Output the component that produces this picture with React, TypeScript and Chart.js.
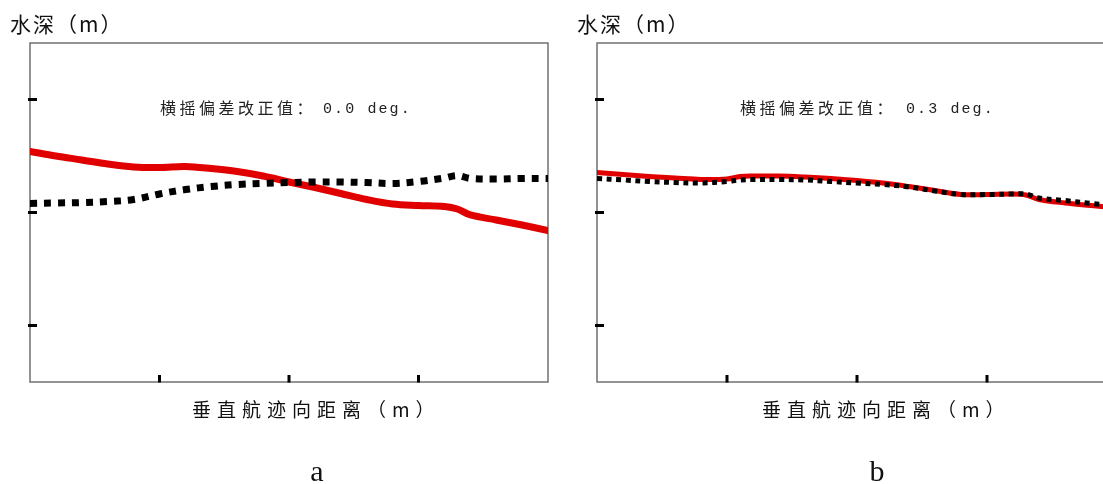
import React, { useEffect, useRef } from "react";
import { Chart, registerables } from "chart.js";

Chart.register(...registerables);

// ---- data (x: cross-track distance units, y: depth units) ----
const X_A = [0, 2, 4, 6, 8, 10, 12, 14, 16, 18, 20, 22, 24, 26, 28, 30, 32, 33, 34, 36, 38, 40];
const RED_A = [9.6, 10.0, 10.35, 10.71, 10.97, 11.02, 10.93, 11.11, 11.37, 11.77, 12.3, 12.79, 13.32, 13.85, 14.25, 14.38, 14.47, 14.69, 15.22, 15.66, 16.11, 16.59];
const BLACK_A = [14.2, 14.16, 14.12, 14.03, 13.85, 13.36, 12.97, 12.7, 12.52, 12.43, 12.35, 12.3, 12.3, 12.35, 12.43, 12.26, 11.95, 11.73, 11.99, 12.04, 11.99, 11.99];

const X_B = [0, 2, 4, 6, 8, 10, 11, 12, 14, 16, 18, 20, 22, 24, 26, 28, 30, 32, 33, 34, 36, 38, 40];
const RED_B = [11.46, 11.64, 11.81, 11.95, 12.08, 12.04, 11.81, 11.77, 11.77, 11.86, 11.99, 12.17, 12.39, 12.7, 13.05, 13.41, 13.41, 13.36, 13.45, 13.85, 14.16, 14.38, 14.6];
const BLACK_B = [11.99, 12.12, 12.26, 12.35, 12.39, 12.26, 12.12, 12.08, 12.08, 12.12, 12.26, 12.39, 12.52, 12.74, 13.1, 13.41, 13.41, 13.36, 13.36, 13.72, 13.94, 14.2, 14.43];

const X_TICKS = [10, 20, 30];
const Y_TICKS = [5, 15, 25];
const X_MIN = 0, X_MAX = 40, Y_MIN = 0, Y_MAX = 30;

const Y_TITLE = "水深（m）";
const X_TITLE = "垂直航迹向距离（m）";
const NOTE_LABEL = "横摇偏差改正值：";
const NOTE_VALUE_A = "0.0 deg.";
const NOTE_VALUE_B = "0.3 deg.";

const CANVAS_W = 560;
const CANVAS_H = 484;

const decorPlugin = {
  id: "decor",
  beforeDatasetsDraw(chart: any) {
    const { ctx, chartArea, scales } = chart;
    const { left, right, top, bottom } = chartArea;
    ctx.save();
    ctx.strokeStyle = "#707070";
    ctx.lineWidth = 1.5;
    ctx.strokeRect(left, top, right - left, bottom - top);
    ctx.fillStyle = "#000";
    for (const v of Y_TICKS) {
      const py = scales.y.getPixelForValue(v);
      ctx.fillRect(left - 2, py - 1.5, 9, 3);
    }
    for (const v of X_TICKS) {
      const px = scales.x.getPixelForValue(v);
      ctx.fillRect(px - 1.5, bottom - 7, 3, 7.5);
    }
    ctx.restore();
  },
  afterDraw(chart: any, _args: any, opts: any) {
    const { ctx, chartArea } = chart;
    const { left, top } = chartArea;
    ctx.save();
    ctx.textBaseline = "middle";
    ctx.textAlign = "left";
    // y title
    ctx.fillStyle = "#111";
    ctx.font = '21px "Noto Sans CJK SC"';
    (ctx as any).letterSpacing = "2px";
    ctx.fillText(Y_TITLE, left - 20, top - 19);
    // note
    ctx.fillStyle = "#222";
    ctx.font = '16px "Noto Sans CJK SC"';
    (ctx as any).letterSpacing = "3.5px";
    ctx.fillText(NOTE_LABEL, left + opts.noteDx, 108);
    ctx.font = '15px "Liberation Mono"';
    (ctx as any).letterSpacing = "2.1px";
    ctx.fillText(opts.value, left + opts.noteDx + opts.valueDx, 109);
    // x title
    ctx.fillStyle = "#111";
    ctx.font = '19px "Noto Sans CJK SC"';
    (ctx as any).letterSpacing = "6px";
    ctx.fillText(X_TITLE, left + opts.titleDx, 410);
    // panel letter
    (ctx as any).letterSpacing = "0px";
    ctx.font = '30px "Liberation Serif"';
    ctx.textAlign = "center";
    ctx.textBaseline = "alphabetic";
    ctx.fillText(opts.letter, left + opts.letterDx, 481);
    ctx.restore();
  },
};

type PanelProps = {
  xs: number[];
  red: number[];
  black: number[];
  redWidth: number;
  blackWidth: number;
  dash: number[];
  padRight: number;
  value: string;
  noteDx: number;
  valueDx: number;
  titleDx: number;
  letter: string;
  letterDx: number;
};

function Panel(p: PanelProps) {
  const ref = useRef<HTMLCanvasElement | null>(null);
  useEffect(() => {
    if (!ref.current) return;
    const chart = new Chart(ref.current, {
      type: "line",
      data: {
        datasets: [
          {
            data: p.xs.map((x, i) => ({ x, y: p.red[i] })),
            borderColor: "#e00000",
            borderWidth: p.redWidth,
            pointRadius: 0,
            tension: 0.35,
            borderCapStyle: "round",
            borderJoinStyle: "round",
            order: 2,
          },
          {
            data: p.xs.map((x, i) => ({ x, y: p.black[i] })),
            borderColor: "#000",
            borderWidth: p.blackWidth,
            borderDash: p.dash,
            borderCapStyle: "butt",
            pointRadius: 0,
            tension: 0.35,
            order: 1,
          },
        ],
      },
      options: {
        responsive: false,
        animation: false,
        devicePixelRatio: 1,
        layout: { padding: { left: 30, top: 43, right: p.padRight, bottom: 102 } },
        scales: {
          x: { type: "linear", min: X_MIN, max: X_MAX, display: false },
          y: { type: "linear", min: Y_MIN, max: Y_MAX, reverse: true, display: false },
        },
        plugins: {
          legend: { display: false },
          tooltip: { enabled: false },
          decor: { value: p.value, noteDx: p.noteDx, valueDx: p.valueDx, titleDx: p.titleDx, letter: p.letter, letterDx: p.letterDx },
        } as any,
      },
      plugins: [decorPlugin],
    } as any);
    return () => chart.destroy();
  }, []);
  return <canvas ref={ref} width={CANVAS_W} height={CANVAS_H} style={{ width: CANVAS_W, height: CANVAS_H, display: "block" }} />;
}

export default function App() {
  return (
    <div style={{ position: "fixed", left: 0, top: 0, width: 1103, height: 484, overflow: "hidden", background: "#fff" }}>
      <div style={{ position: "absolute", left: 0, top: 0 }}>
        <Panel xs={X_A} red={RED_A} black={BLACK_A} redWidth={7} blackWidth={7} dash={[7, 7]} padRight={12}
          value={NOTE_VALUE_A} noteDx={130} valueDx={163} titleDx={162} letter="a" letterDx={287} />
      </div>
      <div style={{ position: "absolute", left: 567, top: 0 }}>
        <Panel xs={X_B} red={RED_B} black={BLACK_B} redWidth={5} blackWidth={5} dash={[5, 4.6]} padRight={10}
          value={NOTE_VALUE_B} noteDx={143} valueDx={166} titleDx={165} letter="b" letterDx={280} />
      </div>
    </div>
  );
}
